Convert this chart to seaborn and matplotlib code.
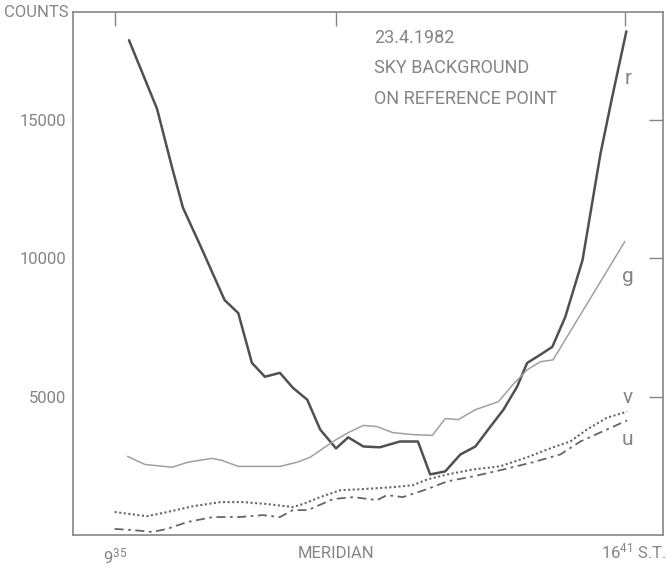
import matplotlib
matplotlib.use("Agg")
import matplotlib.pyplot as plt
import seaborn as sns

# sidereal time (decimal hours) and counts
r_time = [9.78, 10.17, 10.38, 10.53, 10.77, 11.11, 11.30, 11.49, 11.67, 11.88, 12.06, 12.26,
          12.44, 12.66, 12.83, 13.04, 13.27, 13.55, 13.80, 13.97, 14.18, 14.39, 14.60, 14.80,
          14.99, 15.18, 15.32, 15.50, 15.67, 15.85, 16.09, 16.34, 16.50, 16.70]
r_counts = [17880, 15400, 13270, 11830, 10470, 8490, 8020, 6220, 5720, 5860, 5320, 4890,
            3810, 3130, 3530, 3200, 3170, 3380, 3380, 2190, 2300, 2910, 3200, 3890,
            4530, 5360, 6220, 6510, 6800, 7880, 9930, 13780, 15790, 18200]

g_time = [9.76, 10.00, 10.38, 10.60, 10.93, 11.07, 11.30, 11.56, 11.88, 12.12, 12.30, 12.62,
          12.83, 13.04, 13.23, 13.45, 13.73, 14.00, 14.18, 14.36, 14.60, 14.92, 15.12, 15.32,
          15.50, 15.68, 16.68]
g_counts = [2840, 2550, 2450, 2630, 2770, 2700, 2480, 2480, 2480, 2630, 2810, 3380,
            3700, 3960, 3920, 3700, 3630, 3600, 4210, 4170, 4530, 4820, 5430, 5970,
            6260, 6330, 10610]

v_time = [9.58, 9.79, 10.03, 10.31, 10.67, 11.05, 11.37, 11.70, 12.06, 12.20, 12.44, 12.72,
          13.04, 13.45, 13.73, 13.93, 14.21, 14.57, 14.94, 15.32, 15.68, 15.92, 16.15, 16.43,
          16.71]
v_counts = [830, 760, 680, 830, 1040, 1190, 1190, 1120, 1010, 1120, 1370, 1620,
            1660, 1730, 1800, 2010, 2190, 2370, 2480, 2810, 3170, 3380, 3810, 4240,
            4460]

u_time = [9.58, 9.83, 10.10, 10.31, 10.59, 10.95, 11.32, 11.64, 11.88, 12.06, 12.27, 12.62,
          12.90, 13.23, 13.37, 13.59, 13.93, 14.21, 14.57, 14.99, 15.40, 15.78, 16.06, 16.34,
          16.71]
u_counts = [220, 180, 110, 220, 470, 650, 650, 720, 650, 900, 900, 1300,
            1370, 1260, 1440, 1370, 1660, 1940, 2120, 2370, 2630, 2910, 3380, 3710,
            4140]

x_ticks = [9 + 35 / 60, 12.66, 16 + 41 / 60]
x_ticklabels = [r"$9^{35}$", "MERIDIAN", ""]
end_label = r"$16^{41}$ S.T."
y_ticks = [5000, 10000, 15000]

sns.set_style("white")
plt.rcParams["font.family"] = ["Roboto", "DejaVu Sans"]
plt.rcParams["mathtext.fontset"] = "custom"
plt.rcParams["mathtext.rm"] = "Roboto"
plt.rcParams["mathtext.it"] = "Roboto"

grey = "#858585"

fig = plt.figure(figsize=(6.67, 5.67), dpi=100)
ax = fig.add_axes([0.1094, 0.0564, 0.8846, 0.9224])

sns.lineplot(x=r_time, y=r_counts, ax=ax, color="#505050", linewidth=1.8)
sns.lineplot(x=g_time, y=g_counts, ax=ax, color="#a0a0a0", linewidth=1.1)
sns.lineplot(x=v_time, y=v_counts, ax=ax, color="#666666", linewidth=1.5, linestyle=(0, (1, 1.2)))
sns.lineplot(x=u_time, y=u_counts, ax=ax, color="#666666", linewidth=1.3,
             linestyle=(0, (5, 2.5, 1.5, 2.5)))

ax.set_xlim(9.0, 17.21)
ax.set_ylim(0, 18900)

ax.set_xticks(x_ticks)
ax.set_xticklabels(x_ticklabels)
ax.set_yticks(y_ticks)
ax.set_yticklabels([str(v) for v in y_ticks])
ax.tick_params(direction="in", length=10, width=1, color=grey, labelcolor=grey,
               labelsize=12, top=True, right=True, pad=5)
ax.tick_params(axis="x", pad=8)
for s in ax.spines.values():
    s.set_color(grey)
    s.set_linewidth(1.2)

# right-hand time label sits partly left of its tick, with "S.T." after it
ax.text(16.35, -850, end_label, ha="left", va="baseline", color=grey, fontsize=12)

ax.text(-0.008, 1.0, "COUNTS", transform=ax.transAxes, ha="right", va="center",
        color=grey, fontsize=12)

ax.text(0.51, 0.968, "23.4.1982\nSKY BACKGROUND\nON REFERENCE POINT", transform=ax.transAxes,
        ha="left", va="top", color=grey, fontsize=13, linespacing=1.9)

for lab, yv in [("r", 16500), ("g", 9330), ("v", 4960), ("u", 3450)]:
    ax.text(16.72, yv, lab, ha="center", va="center", color=grey, fontsize=15)

fig.savefig("out.png", dpi=100)
